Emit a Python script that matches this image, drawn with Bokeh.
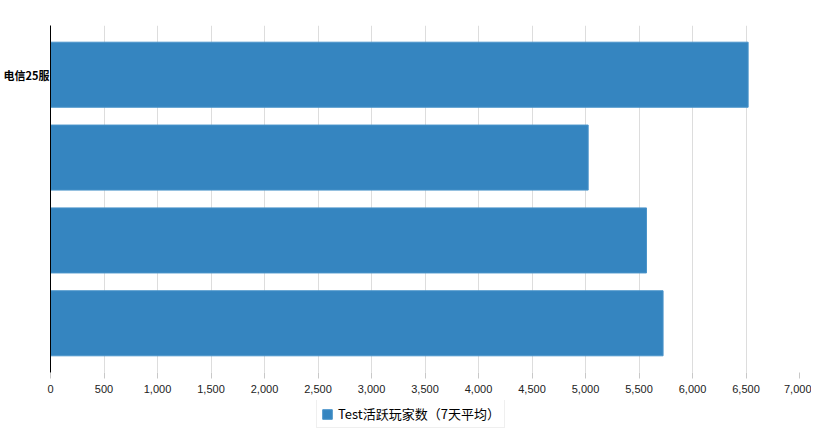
from bokeh.plotting import figure
from bokeh.layouts import column
from bokeh.models import (FactorRange, Range1d, SingleIntervalTicker, NumeralTickFormatter,
                          ColumnDataSource, Legend, LegendItem)
from bokeh.embed import file_html
from bokeh.resources import INLINE

# data (top to bottom)
categories = ["电信25服", " ", "  ", "   "]
values = [6520, 5025, 5570, 5725]
series_name = "Test活跃玩家数（7天平均）"
x_max = 7000
tick_step = 500

bar_fill = "#3585c0"
bar_line = "#4a94ca"

src = ColumnDataSource(dict(cat=categories, val=values))

p = figure(y_range=FactorRange(factors=categories[::-1], range_padding=0.047),
           x_range=Range1d(0, x_max),
           frame_width=749, frame_height=347, output_backend="svg", toolbar_location=None,
           min_border_left=0, min_border_right=12, min_border_top=25, min_border_bottom=28)
p.outline_line_color = None
p.background_fill_color = "white"

r = p.hbar(y="cat", right="val", left=0, height=0.785, source=src,
           fill_color=bar_fill, line_color=bar_line, line_width=1)

# x axis
p.xaxis.ticker = SingleIntervalTicker(interval=tick_step)
p.xaxis.formatter = NumeralTickFormatter(format="0,0")
p.xaxis.axis_line_color = None
p.xaxis.major_tick_line_color = "#c8c8c8"
p.xaxis.major_tick_in = 0
p.xaxis.major_tick_out = 6
p.xaxis.minor_tick_line_color = None
p.xaxis.major_label_text_font = "Liberation Sans"
p.xaxis.major_label_text_font_size = "11px"
p.xaxis.major_label_text_color = "#222222"
p.xaxis.major_label_standoff = 6

# y axis
p.yaxis.axis_line_color = "black"
p.yaxis.axis_line_width = 1
p.yaxis.major_tick_line_color = None
p.yaxis.major_tick_in = 0
p.yaxis.major_tick_out = 0
p.yaxis.minor_tick_line_color = None
p.yaxis.major_label_standoff = 1
p.yaxis.major_label_text_font = "Noto Sans CJK SC"
p.yaxis.major_label_text_font_size = "11px"
p.yaxis.major_label_text_font_style = "bold"
p.yaxis.major_label_text_color = "black"

p.xgrid.grid_line_color = "#dddddd"
p.ygrid.grid_line_color = None

# legend strip below the chart (same series, drawn out of view)
p2 = figure(y_range=FactorRange(factors=categories[::-1]), x_range=Range1d(-2, -1),
            frame_width=803, frame_height=34, output_backend="svg", toolbar_location=None,
            x_axis_type=None, y_axis_type=None,
            min_border_left=0, min_border_right=0, min_border_top=0, min_border_bottom=0)
p2.outline_line_color = None
p2.xgrid.grid_line_color = None
p2.ygrid.grid_line_color = None
r2 = p2.hbar(y="cat", right="val", left=0, height=0.785, source=src,
             fill_color=bar_fill, line_color=bar_line, line_width=1)

legend = Legend(items=[LegendItem(label=series_name, renderers=[r2])],
                location=(316, 6), orientation="horizontal",
                label_text_font="Noto Sans CJK SC", label_text_font_size="13px",
                label_text_color="black", label_height=14,
                glyph_width=12, glyph_height=12, padding=4, spacing=4, margin=0,
                border_line_color="#e0e0e0", border_line_width=1,
                background_fill_color="white")
p2.add_layout(legend, "center")

layout = column(p, p2, spacing=0)
open("out.html", "w").write(file_html(layout, INLINE))
